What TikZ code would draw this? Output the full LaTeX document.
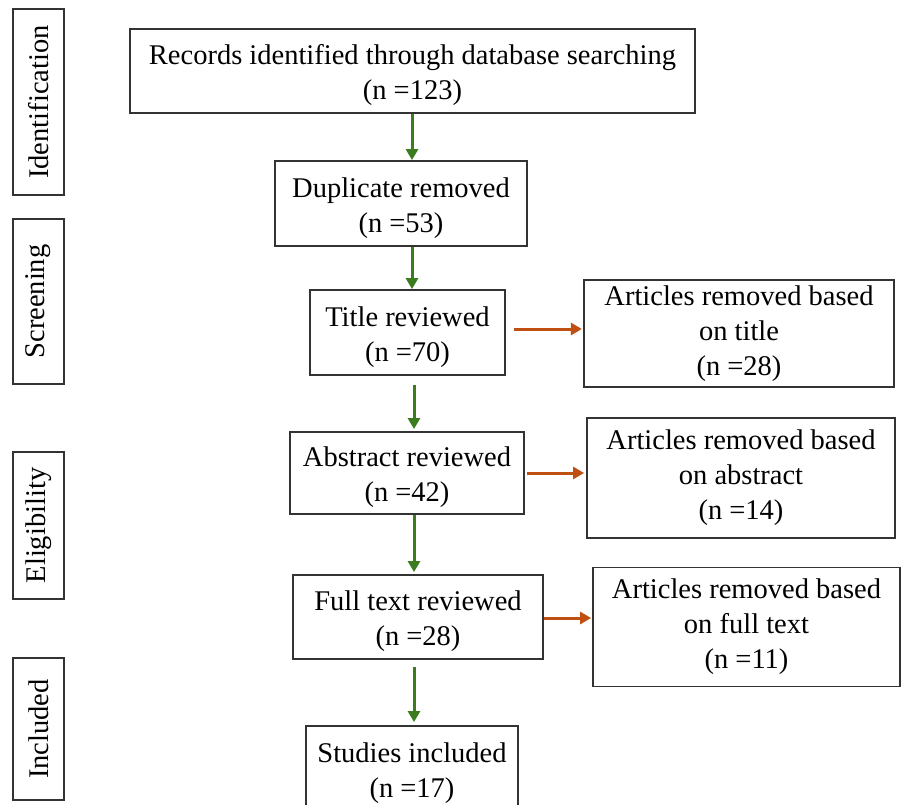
\documentclass[tikz,border=0pt]{standalone}
\usepackage{fontspec}
\setmainfont{Liberation Serif}
\usetikzlibrary{arrows.meta}
\definecolor{arrgreen}{HTML}{3A7C1E}
\definecolor{arrorange}{HTML}{C05012}
\newcommand{\topstrut}{\rule{0pt}{28.5pt}}
\tikzset{
  box/.style={draw=black!80, line width=1.8pt, inner sep=0pt, align=center,
    font=\fontsize{28.5}{35}\selectfont},
  stage/.style={box, rotate=90, minimum height=51pt},
  garrow/.style={draw=arrgreen, line width=3pt, -{Triangle[width=12pt,length=11pt]}},
  oarrow/.style={draw=arrorange, line width=3pt, -{Triangle[width=12pt,length=11pt]}}
}
\begin{document}
\begin{tikzpicture}[x=1pt,y=-1pt]
\useasboundingbox (0,0) rectangle (902,805);
% stage labels
\node[stage, minimum width=186pt] (sid) at (38.5,102) {Identification};
\node[stage, minimum width=165pt] (ssc) at (38.5,301.5) {Screening};
\node[stage, minimum width=147pt] (sel) at (38.5,525.5) {Eligibility};
\node[stage, minimum width=142pt] (sin) at (38.5,729) {Included};
% main flow
\node[box, minimum width=565pt, minimum height=84pt] (rec) at (412.5,71)
  {\topstrut Records identified through database searching\\(n =123)};
\node[box, minimum width=252pt, minimum height=85pt] (dup) at (401,203.5)
  {\topstrut Duplicate removed\\(n =53)};
\node[box, minimum width=195pt, minimum height=85pt] (tit) at (407.5,332.5)
  {\topstrut Title reviewed\\(n =70)};
\node[box, minimum width=234pt, minimum height=82pt] (abs) at (407,473)
  {\topstrut Abstract reviewed\\(n =42)};
\node[box, minimum width=250pt, minimum height=84pt] (ful) at (418,617)
  {\topstrut Full text reviewed\\(n =28)};
\node[box, minimum width=212pt, minimum height=86pt] (stu) at (412,769)
  {\topstrut Studies included\\(n =17)};
% side boxes
\node[box, line width=2.2pt, minimum width=310pt, minimum height=107pt] (ar1) at (739,333.5)
  {Articles removed based\\on title\\(n =28)};
\node[box, minimum width=308pt, minimum height=120pt] (ar2) at (741,478)
  {Articles removed based\\on abstract\\(n =14)};
\node[box, minimum width=307pt, minimum height=119pt] (ar3) at (746.5,627)
  {Articles removed based\\on full text\\(n =11)};
% green arrows
\draw[garrow] ([xshift=-0.5pt]rec.south) -- ([xshift=-0.5pt]rec.south |- dup.north);
\draw[garrow] ([xshift=-0.5pt]rec.south |- dup.south) -- ([xshift=-0.5pt]rec.south |- tit.north);
\draw[garrow, shorten <=9pt, shorten >=2pt] ([xshift=6.5pt]tit.south) -- ([xshift=6.5pt]tit.south |- abs.north);
\draw[garrow, shorten >=2pt] ([xshift=6.5pt]tit.south |- abs.south) -- ([xshift=6.5pt]tit.south |- ful.north);
\draw[garrow, shorten <=7pt, shorten >=3pt] ([xshift=6.5pt]tit.south |- ful.south) -- ([xshift=6.5pt]tit.south |- stu.north);
% orange arrows
\draw[oarrow, shorten <=8pt, shorten >=1pt] ([yshift=3.5pt]tit.east) -- ([yshift=3.5pt]tit.east -| ar1.west);
\draw[oarrow, shorten <=2pt, shorten >=2pt] (abs.east) -- (abs.east -| ar2.west);
\draw[oarrow, shorten >=1pt] ([yshift=-1pt]ful.east) -- ([yshift=-1pt]ful.east -| ar3.west);
\end{tikzpicture}
\end{document}
